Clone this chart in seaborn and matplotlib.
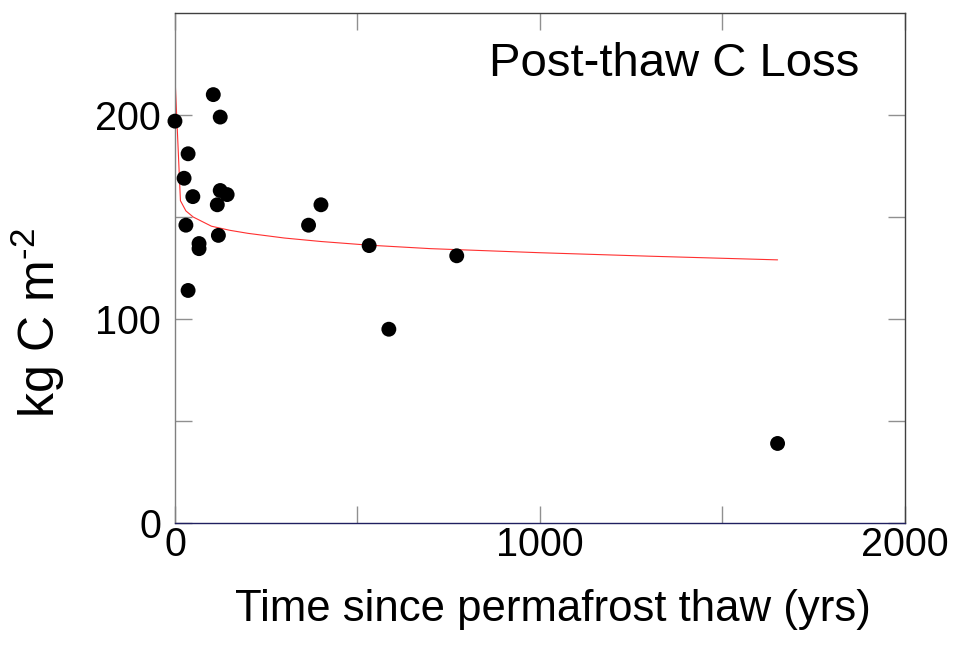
import numpy as np
import pandas as pd
import matplotlib
matplotlib.use('Agg')
import matplotlib.pyplot as plt
import seaborn as sns

# site data: years since thaw vs C loss
years = [105, 124, 0, 36, 25, 49, 124, 143, 116, 400,
         30, 366, 119, 66, 66, 532, 36, 772, 586, 1651]
carbon = [210, 199, 197, 181, 169, 160, 163, 161, 156, 156,
          146, 146, 141, 137, 134.5, 136, 114, 131, 95, 39]

# fitted curve
fit_years = [0, 15, 30, 50, 100, 150, 200, 300, 400, 532, 700, 1000, 1300, 1651]
fit_carbon = [219, 158, 153, 150, 145.5, 143.5, 142, 139.7, 138, 136.2,
              134.5, 132.5, 130.8, 129]

pts = pd.DataFrame({'years': years, 'carbon': carbon})
fit = pd.DataFrame({'years': fit_years, 'carbon': fit_carbon})

sns.set_style('ticks')
plt.rcParams['font.family'] = ['Liberation Sans', 'DejaVu Sans']
plt.rcParams['mathtext.fontset'] = 'custom'
plt.rcParams['mathtext.rm'] = 'Liberation Sans'
plt.rcParams['mathtext.it'] = 'Liberation Sans'
plt.rcParams['text.color'] = 'black'
plt.rcParams['axes.labelcolor'] = 'black'
plt.rcParams['xtick.labelcolor'] = 'black'
plt.rcParams['ytick.labelcolor'] = 'black'

fig = plt.figure(figsize=(9.55, 6.64), dpi=100)
ax = fig.add_axes([0.1832, 0.2123, 0.9476 - 0.1832, 0.9804 - 0.2123])

sns.lineplot(data=fit, x='years', y='carbon', ax=ax, color='#ff3030',
             linewidth=0.8, sort=False)
sns.scatterplot(data=pts, x='years', y='carbon', ax=ax, color='black',
                s=115, edgecolor='none', clip_on=False, zorder=5)

ax.set_xlim(0, 2000)
ax.set_ylim(0, 250)
ax.set_xticks([0, 1000, 2000])
ax.set_xticks([500, 1500], minor=True)
ax.set_yticks([0, 100, 200])
ax.set_yticks([50, 150], minor=True)

ax.tick_params(axis='both', which='both', direction='in', length=12,
               width=1, color='#909090', top=True, right=True)
ax.tick_params(axis='x', which='major', labelsize=28.5, pad=2)
ax.tick_params(axis='y', which='major', labelsize=28.5, pad=10)

ax.spines['left'].set_color('#808080')
ax.spines['top'].set_color('#404040')
ax.spines['right'].set_color('#404040')
ax.spines['bottom'].set_color('#202060')
for s in ax.spines.values():
    s.set_linewidth(1)

ax.set_xlabel('Time since permafrost thaw (yrs)', fontsize=31.5)
ax.xaxis.set_label_coords(0.518, -0.13)
ax.set_ylabel(r'kg C m$^{\text{-}2}$', fontsize=36)
ax.yaxis.set_label_coords(-0.148, 0.392)

ax.text(0.937, 0.9, 'Post-thaw C Loss', transform=ax.transAxes,
        fontsize=34, ha='right', va='center')

fig.savefig('out.png', dpi=100)
